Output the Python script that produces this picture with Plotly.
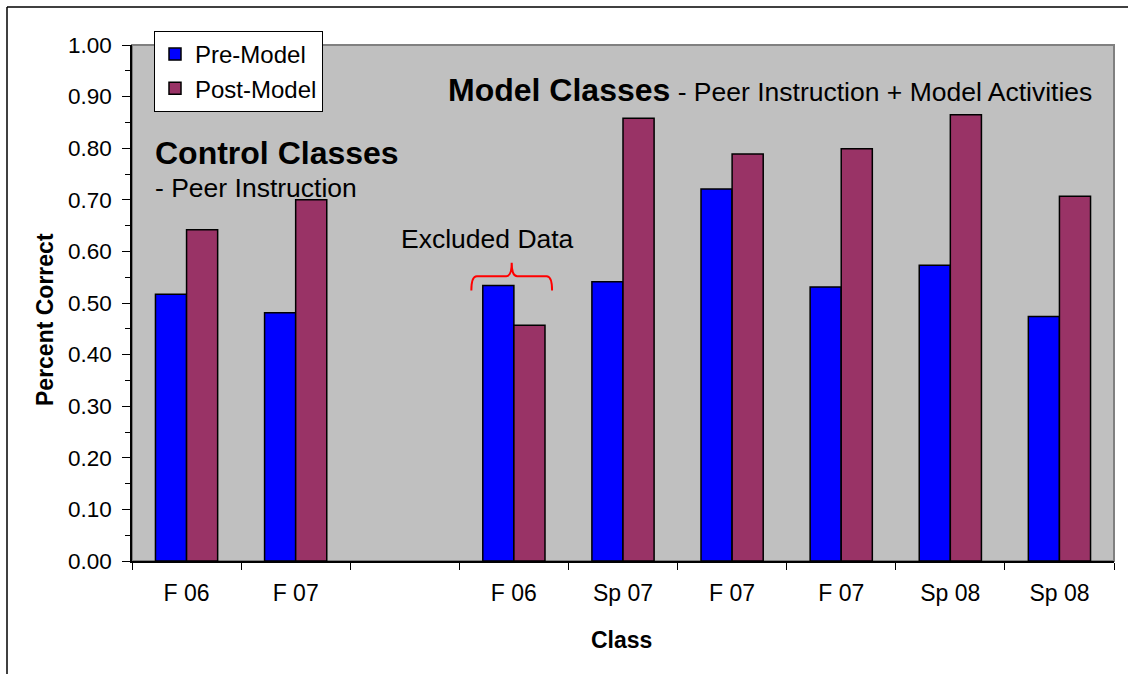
import plotly.graph_objects as go

# ---- data ----
slots = [0, 1, 2, 3, 4, 5, 6, 7, 8]
class_labels = ["F 06", "F 07", "", "F 06", "Sp 07", "F 07", "F 07", "Sp 08", "Sp 08"]
pre_model = [0.517, 0.481, None, 0.534, 0.541, 0.721, 0.531, 0.573, 0.474]
post_model = [0.642, 0.700, None, 0.457, 0.858, 0.789, 0.799, 0.865, 0.707]
y_ticks = [0.0, 0.1, 0.2, 0.3, 0.4, 0.5, 0.6, 0.7, 0.8, 0.9, 1.0]

W, H = 1133, 674
L, R, T, B = 132, 1114, 45, 561  # plot area in px


def px(xp):
    return (xp - L) / (R - L)


def py(yp):
    return (B - yp) / (B - T)


FONT = "Liberation Sans, Arial, sans-serif"

fig = go.Figure()
fig.add_trace(go.Bar(x=slots, y=pre_model, name="Pre-Model",
                     marker=dict(color="#0000FF", line=dict(color="black", width=1.5))))
fig.add_trace(go.Bar(x=slots, y=post_model, name="Post-Model",
                     marker=dict(color="#993366", line=dict(color="black", width=1.5))))

# brace over excluded data (data coordinates)
bx, bhalf = 2.98, 0.37
y0, y1, yp = 0.524, 0.552, 0.578
dx = 0.05
path = (f"M {bx-bhalf},{y0} Q {bx-bhalf},{y1} {bx-bhalf+dx},{y1} "
        f"L {bx-dx},{y1} Q {bx},{y1} {bx},{yp} "
        f"Q {bx},{y1} {bx+dx},{y1} L {bx+bhalf-dx},{y1} "
        f"Q {bx+bhalf},{y1} {bx+bhalf},{y0}")

shapes = [
    dict(type="rect", xref="paper", yref="paper", x0=0, x1=1, y0=0, y1=1,
         line=dict(color="#808080", width=2), layer="below"),
    dict(type="path", xref="x", yref="y", path=path,
         line=dict(color="#FF0000", width=2)),
    # outer frame (top and left)
    dict(type="line", xref="paper", yref="paper", x0=px(7), x1=px(1128), y0=py(7), y1=py(7),
         line=dict(color="black", width=1.5)),
    dict(type="line", xref="paper", yref="paper", x0=px(7), x1=px(7), y0=py(7), y1=py(680),
         line=dict(color="black", width=1.5)),
]

annotations = [
    dict(text="<b>Control Classes</b>", x=px(153), y=py(153), xref="paper", yref="paper",
         xanchor="left", yanchor="middle", showarrow=False, font=dict(size=32, color="black", family=FONT)),
    dict(text="- Peer Instruction", x=px(153), y=py(188), xref="paper", yref="paper",
         xanchor="left", yanchor="middle", showarrow=False, font=dict(size=26.5, color="black", family=FONT)),
    dict(text="<b>Model Classes</b><span style='font-size:26.5px'> - Peer Instruction + Model Activities</span>",
         x=px(446), y=py(90), xref="paper", yref="paper",
         xanchor="left", yanchor="middle", showarrow=False, font=dict(size=32, color="black", family=FONT)),
    dict(text="Excluded Data", x=px(487), y=py(239), xref="paper", yref="paper",
         xanchor="center", yanchor="middle", showarrow=False, font=dict(size=26.5, color="black", family=FONT)),
    dict(text="<b>Percent Correct</b>", x=px(45), y=py(320), xref="paper", yref="paper",
         xanchor="center", yanchor="middle", textangle=-90, showarrow=False,
         font=dict(size=23, color="black", family=FONT)),
    dict(text="<b>Class</b>", x=px(621), y=py(640), xref="paper", yref="paper",
         xanchor="center", yanchor="middle", showarrow=False, font=dict(size=23, color="black", family=FONT)),
]

fig.update_layout(
    width=W, height=H,
    margin=dict(l=L, r=W - R, t=T, b=H - B, pad=0),
    paper_bgcolor="white", plot_bgcolor="#C0C0C0",
    barmode="group", bargap=0.43, bargroupgap=0,
    font=dict(family=FONT, color="black", size=22),
    showlegend=True,
    legend=dict(x=px(154), y=py(31), xanchor="left", yanchor="top",
                bgcolor="white", bordercolor="black", borderwidth=1,
                font=dict(size=24, family=FONT, color="black"),
                itemclick=False),
    shapes=shapes, annotations=annotations,
)

fig.update_xaxes(
    range=[-0.5, 8.5], tickvals=slots, ticktext=class_labels,
    ticks="outside", ticklen=11, tickcolor="rgba(0,0,0,0)",
    showline=True, linecolor="black", linewidth=1.5, showgrid=False, zeroline=False,
    tickfont=dict(size=23, family=FONT, color="black"),
    minor=dict(tick0=-0.5, dtick=1, ticks="outside", ticklen=7, tickcolor="black", tickwidth=1),
)
fig.update_yaxes(
    range=[0, 1.0], tickvals=y_ticks, tickformat=".2f",
    ticks="outside", ticklen=8, tickcolor="black", tickwidth=1,
    showline=True, linecolor="black", linewidth=1.5, showgrid=False, zeroline=False,
    tickfont=dict(size=22.5, family=FONT, color="black"),
    minor=dict(tick0=0.05, dtick=0.1, ticks="outside", ticklen=5, tickcolor="black", tickwidth=1),
    ticklabelstandoff=6,
)

fig.write_html("out.html", config={"displayModeBar": False},
               post_script="document.body.style.margin='0';")
